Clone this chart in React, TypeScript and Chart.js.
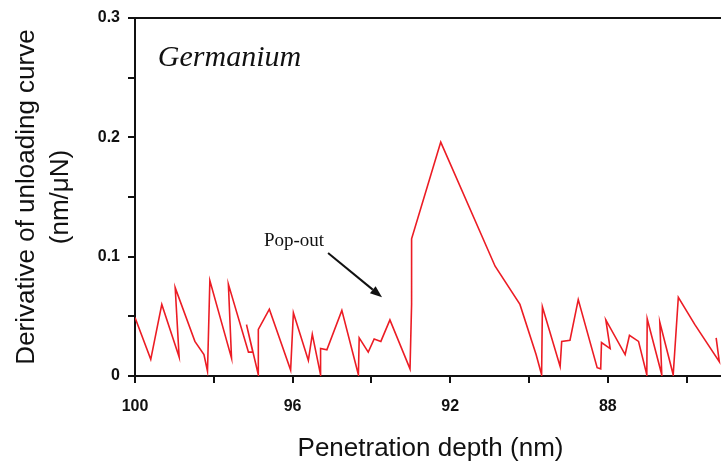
import React, { useEffect, useRef } from 'react';
import { Chart, registerables } from 'chart.js';

Chart.register(...registerables);

// Penetration depth (nm), in drawing order
const DEPTH = [
  100.0, 99.6, 99.32, 98.88, 98.98, 98.48, 98.25, 98.16, 98.1, 97.55,
  97.63, 97.12, 97.01, 97.17, 96.87, 96.87, 96.59, 96.05, 95.98, 95.6,
  95.5, 95.29, 95.29, 95.13, 94.75, 94.33, 94.31, 94.08, 93.93, 93.76,
  93.53, 93.02, 92.98, 92.98, 92.24, 90.86, 90.23, 89.82, 89.68, 89.66,
  89.21, 89.17, 88.96, 88.75, 88.27, 88.18, 88.16, 87.94, 88.05, 87.56,
  87.45, 87.22, 87.01, 87.0, 86.63, 86.68, 86.34, 86.21, 85.79, 85.17,
  85.25,
];
// Derivative of unloading curve (nm/μN)
const DERIV = [
  0.049, 0.014, 0.06, 0.016, 0.074, 0.029, 0.018, 0.004, 0.08, 0.015,
  0.077, 0.02, 0.02, 0.043, 0.001, 0.039, 0.056, 0.005, 0.053, 0.013,
  0.035, 0.001, 0.023, 0.022, 0.055, 0.001, 0.032, 0.02, 0.031, 0.029,
  0.047, 0.006, 0.06, 0.115, 0.196, 0.092, 0.06, 0.018, 0.001, 0.058,
  0.008, 0.029, 0.03, 0.064, 0.007, 0.006, 0.028, 0.023, 0.047, 0.018,
  0.034, 0.029, 0.001, 0.048, 0.001, 0.045, 0.001, 0.066, 0.043, 0.012,
  0.032,
];

const X_MIN = 85;
const X_MAX = 100;
const X_STEP = 2;
const X_LABELED = [100, 96, 92, 88];
const Y_MIN = 0;
const Y_MAX = 0.3;
const Y_STEP = 0.05;
const Y_LABELED = [0, 0.1, 0.2, 0.3];

const X_TITLE = 'Penetration depth (nm)';
const Y_TITLE = ['Derivative of unloading curve', '(nm/μN)'];
const SAMPLE_LABEL = 'Germanium';
const SAMPLE_POS = { x: 99.42, y: 0.26 };
const ANNOT_TEXT = 'Pop-out';
const ANNOT_POS = { x: 95.2, y: 0.109 };
const ARROW_FROM = { x: 95.1, y: 0.103 };
const ARROW_TO = { x: 93.73, y: 0.066 };

const INK = '#111111';
const LINE_RED = 'rgb(236,28,36)';

const annotPlugin = {
  id: 'annotations',
  afterDraw(chart: any) {
    const { ctx, chartArea, scales } = chart;
    const xs = scales.x;
    const ys = scales.y;
    ctx.save();
    // top frame line
    ctx.strokeStyle = INK;
    ctx.lineWidth = 2;
    ctx.beginPath();
    ctx.moveTo(chartArea.left - 1, chartArea.top);
    ctx.lineTo(chartArea.right + 1, chartArea.top);
    ctx.stroke();

    // sample label
    ctx.fillStyle = INK;
    ctx.font = 'italic 30px "Liberation Serif"';
    ctx.textAlign = 'left';
    ctx.textBaseline = 'alphabetic';
    ctx.fillText(SAMPLE_LABEL, xs.getPixelForValue(SAMPLE_POS.x), ys.getPixelForValue(SAMPLE_POS.y));

    // pop-out label
    ctx.font = '19px "Liberation Serif"';
    ctx.textAlign = 'right';
    ctx.fillText(ANNOT_TEXT, xs.getPixelForValue(ANNOT_POS.x), ys.getPixelForValue(ANNOT_POS.y));

    // arrow
    const x1 = xs.getPixelForValue(ARROW_FROM.x);
    const y1 = ys.getPixelForValue(ARROW_FROM.y);
    const x2 = xs.getPixelForValue(ARROW_TO.x);
    const y2 = ys.getPixelForValue(ARROW_TO.y);
    const ang = Math.atan2(y2 - y1, x2 - x1);
    const headLen = 12;
    const headW = 4.5;
    const bx = x2 - headLen * Math.cos(ang);
    const by = y2 - headLen * Math.sin(ang);
    ctx.strokeStyle = INK;
    ctx.lineWidth = 2;
    ctx.beginPath();
    ctx.moveTo(x1, y1);
    ctx.lineTo(bx, by);
    ctx.stroke();
    ctx.beginPath();
    ctx.moveTo(x2, y2);
    ctx.lineTo(bx + headW * Math.sin(ang), by - headW * Math.cos(ang));
    ctx.lineTo(bx - headW * Math.sin(ang), by + headW * Math.cos(ang));
    ctx.closePath();
    ctx.fill();
    ctx.restore();
  },
};

export default function App() {
  const canvasRef = useRef<HTMLCanvasElement | null>(null);

  useEffect(() => {
    const canvas = canvasRef.current;
    if (!canvas) return;
    const points = DEPTH.map((d, i) => ({ x: d, y: DERIV[i] }));
    const tickFont = { family: '"Liberation Sans", Arial, sans-serif', size: 16, weight: 'bold' as const };
    const chart = new Chart(canvas, {
      type: 'line',
      data: {
        datasets: [
          {
            data: points,
            borderColor: LINE_RED,
            borderWidth: 1.6,
            pointRadius: 0,
            tension: 0,
            fill: false,
          },
        ],
      },
      options: {
        responsive: false,
        devicePixelRatio: 1,
        animation: false,
        layout: { padding: { top: 18, right: 4, bottom: 0, left: 0 } },
        plugins: { legend: { display: false }, tooltip: { enabled: false } },
        scales: {
          x: {
            type: 'linear',
            reverse: true,
            min: X_MIN,
            max: X_MAX,
            afterBuildTicks: (s: any) => {
              s.ticks = s.ticks.filter((t: any) => Math.abs(t.value / X_STEP - Math.round(t.value / X_STEP)) < 1e-6);
            },
            afterFit: (s: any) => {
              s.height = 86;
            },
            ticks: {
              stepSize: X_STEP,
              autoSkip: false,
              maxRotation: 0,
              color: INK,
              font: tickFont,
              padding: 14,
              callback: (v: any) => (X_LABELED.some((t) => Math.abs(t - v) < 1e-6) ? String(Math.round(v)) : ''),
            },
            grid: { display: true, drawOnChartArea: false, drawTicks: true, tickLength: 7, color: INK, lineWidth: 2 },
            border: { display: true, color: INK, width: 2 },
            title: {
              display: true,
              text: X_TITLE,
              color: INK,
              font: { family: '"Liberation Sans", Arial, sans-serif', size: 26, lineHeight: 1 },
              padding: { top: 0, bottom: 0 },
            },
          },
          y: {
            type: 'linear',
            min: Y_MIN,
            max: Y_MAX,
            afterFit: (s: any) => {
              s.width = 135;
            },
            ticks: {
              stepSize: Y_STEP,
              autoSkip: false,
              color: INK,
              font: tickFont,
              padding: 8,
              callback: (v: any) => {
                const t = Y_LABELED.find((l) => Math.abs(l - v) < 1e-6);
                if (t === undefined) return '';
                return t === 0 ? '0' : t.toFixed(1);
              },
            },
            grid: { display: true, drawOnChartArea: false, drawTicks: true, tickLength: 7, color: INK, lineWidth: 2 },
            border: { display: true, color: INK, width: 2 },
            title: {
              display: true,
              text: Y_TITLE,
              color: INK,
              font: { family: '"Liberation Sans", Arial, sans-serif', size: 26, lineHeight: 1.3 },
              padding: { top: 10, bottom: 0 },
            },
          },
        },
      },
      plugins: [annotPlugin],
    });
    return () => chart.destroy();
  }, []);

  return (
    <div
      style={{
        position: 'fixed',
        left: 0,
        top: 0,
        width: 721,
        height: 462,
        overflow: 'hidden',
        background: '#ffffff',
      }}
    >
      <canvas ref={canvasRef} width={730} height={462} style={{ display: 'block', width: 730, height: 462 }} />
    </div>
  );
}
